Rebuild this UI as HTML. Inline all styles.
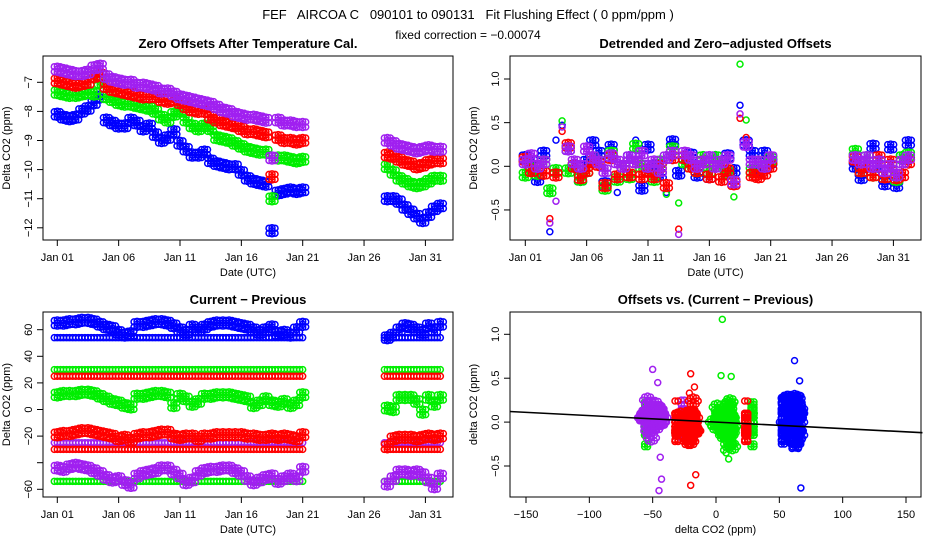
<!DOCTYPE html>
<html><head><meta charset="utf-8">
<style>
html,body{margin:0;padding:0;background:#fff;}
svg{display:block;font-family:"Liberation Sans",Arial,sans-serif;}
text{fill:#000;}
</style></head>
<body>
<svg id="chart" width="936" height="540" viewBox="0 0 936 540" xmlns="http://www.w3.org/2000/svg">
<text x="468" y="19" font-size="13" text-anchor="middle" style="white-space:pre">FEF   AIRCOA C   090101 to 090131   Fit Flushing Effect ( 0 ppm/ppm )</text>
<text x="468" y="39" font-size="12" text-anchor="middle">fixed correction = −0.00074</text>
<g id="layer"></g>
</svg>
<script>
// ---------- data ----------
const dateTickLabels = ["Jan 01","Jan 06","Jan 11","Jan 16","Jan 21","Jan 26","Jan 31"];
const dateTickDays = [0,5,10,15,20,25,30];
const segAStart = 0, segAStep = 0.5;
const segBStart = 26.9, segBStep = 0.48;
const seriesNames = ["blue","green","red","purple"];
const seriesColors = {blue:"#0000ff",green:"#00ee00",red:"#ff0000",purple:"#a020f0"};

// Panel 1: zero offsets after temperature cal.
const zeroBlueA = [-8.1,-8.2,-8.25,-8.2,-8.0,-7.9,-7.7,-7.5,-8.3,-8.4,-8.5,-8.5,-8.3,-8.4,-8.6,-8.5,-8.8,-9.0,-8.9,-8.7,-9.1,-9.3,-9.5,-9.5,-9.4,-9.7,-9.8,-9.85,-9.9,-9.9,-10.1,-10.3,-10.4,-10.45,-10.5,-12.1,-10.8,-10.75,-10.7,-10.75,-10.7];
const zeroGreenA = [-7.35,-7.4,-7.45,-7.45,-7.4,-7.35,-7.4,-7.0,-7.5,-7.6,-7.7,-7.75,-7.75,-7.8,-7.85,-7.9,-8.0,-8.2,-8.3,-8.1,-8.0,-8.3,-8.5,-8.6,-8.5,-8.6,-8.9,-8.95,-9.0,-9.1,-9.2,-9.3,-9.35,-9.4,-9.4,-11.0,-9.6,-9.6,-9.65,-9.7,-9.65];
const zeroRedA = [-6.95,-7.0,-7.05,-7.1,-7.05,-7.0,-6.8,-6.75,-7.15,-7.25,-7.3,-7.35,-7.4,-7.45,-7.5,-7.5,-7.5,-7.6,-7.65,-7.6,-7.7,-7.85,-7.95,-8.0,-8.0,-8.2,-8.3,-8.4,-8.45,-8.5,-8.6,-8.7,-8.7,-8.75,-8.8,-10.25,-8.9,-9.0,-9.0,-9.05,-9.0];
const zeroPurpleA = [-6.55,-6.6,-6.65,-6.7,-6.7,-6.65,-6.5,-6.45,-6.8,-6.9,-6.95,-7.0,-7.0,-7.1,-7.1,-7.15,-7.2,-7.3,-7.3,-7.4,-7.5,-7.55,-7.6,-7.65,-7.7,-7.75,-7.85,-7.95,-8.0,-8.1,-8.15,-8.2,-8.2,-8.25,-8.3,-9.6,-8.3,-8.4,-8.4,-8.45,-8.45];
const zeroBlueB = [-11.0,-11.0,-11.1,-11.3,-11.45,-11.6,-11.75,-11.55,-11.35,-11.25];
const zeroGreenB = [-9.9,-10.1,-10.3,-10.4,-10.5,-10.55,-10.5,-10.4,-10.3,-10.3];
const zeroRedB = [-9.5,-9.55,-9.65,-9.75,-9.8,-9.9,-9.85,-9.75,-9.7,-9.7];
const zeroPurpleB = [-9.0,-9.1,-9.2,-9.25,-9.3,-9.35,-9.3,-9.25,-9.3,-9.3];
const zeroTicks = [-7,-8,-9,-10,-11,-12];

// Panel 2: detrended offsets
const detBlueA = [0.1,0.05,-0.15,0.15,-0.75,0.3,0.47,0.2,0.0,-0.15,0.05,0.27,0.15,-0.2,0.22,-0.3,0.0,0.1,0.3,-0.25,0.22,0.0,-0.1,-0.3,0.28,-0.08,0.1,0.13,-0.1,0.05,-0.12,0.1,0.0,0.12,-0.05,0.7,0.27,0.15,-0.05,0.15,0.05];
const detGreenA = [-0.1,0.0,-0.08,0.05,-0.28,-0.05,0.52,-0.05,0.0,-0.15,-0.05,0.1,0.05,-0.25,0.15,-0.15,0.0,-0.12,0.23,0.0,-0.05,-0.15,0.05,-0.32,0.2,-0.42,0.05,0.0,-0.05,0.1,-0.05,0.1,0.0,-0.08,-0.35,1.17,0.53,-0.05,0.05,0.0,0.08];
const detRedA = [0.08,-0.05,0.0,-0.08,-0.6,-0.1,0.4,0.24,0.0,-0.13,-0.05,0.05,0.02,-0.22,0.1,-0.12,0.0,-0.1,0.05,-0.12,-0.05,-0.12,0.0,-0.22,0.1,-0.72,0.1,0.0,-0.05,0.05,-0.12,0.0,-0.15,-0.05,-0.2,0.55,0.33,-0.1,-0.12,-0.08,0.0];
const detPurpleA = [0.05,0.12,0.0,0.05,-0.65,-0.4,0.45,0.2,0.05,0.0,0.2,0.1,0.05,-0.05,0.12,0.05,0.0,0.1,0.05,0.15,0.0,0.05,-0.05,0.1,0.15,-0.78,0.15,0.1,0.0,0.05,0.1,0.0,0.05,0.1,-0.18,0.6,0.25,0.05,0.05,0.0,0.1];
const detBlueB = [0.0,-0.13,0.1,0.23,0.0,-0.2,0.22,-0.22,0.1,0.27];
const detGreenB = [0.17,-0.05,0.1,-0.1,0.05,-0.12,0.0,-0.15,0.1,0.13];
const detRedB = [0.08,-0.05,0.0,-0.1,0.1,-0.12,0.05,-0.13,-0.1,0.05];
const detPurpleB = [0.1,0.05,0.1,0.0,0.05,-0.05,0.0,-0.1,0.05,0.1];
const offsetTicks = [1.0,0.5,0.0,-0.5];
const offsetTickLabels = ["1.0","0.5","0.0","−0.5"];

// Panel 3: current - previous
const cpBlueA = [65,65,66,66,67,67,66,64,62,61,58,56,57,64,64,65,66,66,65,63,60,58,62,60,62,64,65,65,65,64,63,62,60,58,60,62,57,58,56,60,64];
const cpGreenA = [11,12,12,12,13,13,12,10,8,6,5,3,2,10,10,11,12,12,11,3,10,8,4,6,10,10,11,11,11,10,9,8,3,5,8,5,4,6,3,5,11];
const cpRedA = [-19,-18,-18,-17,-16,-16,-17,-18,-19,-20,-22,-21,-23,-20,-19,-19,-18,-17,-17,-20,-21,-20,-20,-22,-20,-20,-19,-19,-19,-19,-19,-20,-20,-21,-21,-20,-21,-20,-21,-22,-19];
const cpPurpleA = [-44,-45,-43,-42,-43,-44,-46,-48,-51,-53,-52,-55,-57,-50,-48,-47,-46,-44,-44,-47,-50,-55,-53,-48,-46,-45,-45,-44,-44,-46,-48,-52,-55,-53,-51,-50,-54,-52,-50,-52,-45];
const cpBlueB = [54,56,60,63,62,60,58,63,60,64];
const cpGreenB = [1,0,9,9,9,6,-2,9,4,9];
const cpRedB = [-28,-22,-21,-21,-21,-22,-21,-20,-21,-20];
const cpPurpleB = [-56,-52,-47,-47,-48,-47,-49,-53,-58,-50];
const cpRowLevels = [54,30,25,-25,-30,-54];
const cpRowSeries = ["blue","green","red","purple","red","green"];
const cpTicks = [60,40,20,0,-20,-40,-60];
const cpTickLabels = ["60","40","20","0","−20","","−60"];

// Panel 4
const deltaTicks = [-150,-100,-50,0,50,100,150];
const deltaTickLabels = ["−150","−100","−50","0","50","100","150"];
const fitSlope = [-0.00074];
const fitIntercept = [0.0];

// ---------- helpers ----------
const NS = "http://www.w3.org/2000/svg";
const layer = document.getElementById("layer");
function mk(tag, attrs, parent){ const e=document.createElementNS(NS,tag); for(const k in attrs) e.setAttribute(k,attrs[k]); (parent||layer).appendChild(e); return e; }

const P1 = {x0:43,y0:56,x1:453,y1:240, sx:d=>57.3+d*12.27, sy:v=>82.3-(v+7)*29.1};
const P2 = {x0:510,y0:56,x1:921,y1:240, sx:d=>525.3+d*12.27, sy:v=>166.3-v*87.3};
const P3 = {x0:43,y0:312,x1:453,y1:497, sx:d=>57.3+d*12.27, sy:v=>329.7-(v-60)*1.33};
const P4 = {x0:510,y0:312,x1:921,y1:497, sx:v=>716+v*1.2667, sy:v=>422.1-v*87.8};

// marker glyph offsets (visual density of overplotted points, not data)
const DENSE = [[0,0],[-3,-2.5],[3,2.5],[-3,2.5],[3,-2.5],[0,-3],[0,3]];
const ROW = [[0,0],[-3,0]];
const CLUSTER = [[0,0],[-3,-3],[3,3],[-3,3],[3,-3],[0,-4],[0,4],[-5,0],[5,0]];
const SINGLE = [[0,0]];

function frame(P, name, title, xlab, ylab, xt, xtl, yt, ytl){
  const g = mk("g",{});
  
  
  const b = mk("rect",{x:P.x0,y:P.y0,width:P.x1-P.x0,height:P.y1-P.y0,fill:"none",stroke:"#000","stroke-width":1},g);
  
  
  const t = mk("text",{x:(P.x0+P.x1)/2,y:P.y0-8,"font-size":13,"font-weight":"bold","text-anchor":"middle"},g);
  t.textContent = title;
  
  
  const xa = mk("g",{},g);
  
  
  for(let i=0;i<xt.length;i++){
    const x = P.sx(xt[i]);
    mk("line",{x1:x,x2:x,y1:P.y1,y2:P.y1+6,stroke:"#000"},xa);
    const l = mk("text",{x:x,y:P.y1+21,"font-size":11,"text-anchor":"middle"},xa);
    l.textContent = xtl[i];
    
    
  }
  const xl = mk("text",{x:(P.x0+P.x1)/2,y:P.y1+36,"font-size":11,"text-anchor":"middle"},g);
  xl.textContent = xlab;
  
  
  const ya = mk("g",{},g);
  
  
  for(let i=0;i<yt.length;i++){
    const y = P.sy(yt[i]);
    mk("line",{x1:P.x0-6,x2:P.x0,y1:y,y2:y,stroke:"#000"},ya);
    if(ytl[i]!==""){
      const l = mk("text",{x:0,y:0,"font-size":11,"text-anchor":"middle",transform:`translate(${P.x0-11},${y}) rotate(-90)`},ya);
      l.textContent = ytl[i];
      
      
    }
  }
  const yl = mk("text",{x:0,y:0,"font-size":11,"text-anchor":"middle",transform:`translate(${P.x0-33},${(P.y0+P.y1)/2}) rotate(-90)`},g);
  yl.textContent = ylab;
  
  
}

// glyphFn(value) -> offsets list
function pts(P, name, xs, ys, color, glyphFn){
  const g = mk("g",{fill:"none",stroke:color,"stroke-width":1.5});
  
  
  for(let i=0;i<ys.length;i++){
    const cx = P.sx(xs[i]), cy = P.sy(ys[i]);
    const offs = glyphFn ? glyphFn(ys[i]) : SINGLE;
    const pg = mk("g",{},g);
    
    
    offs.forEach(o=>mk("circle",{cx:(cx+o[0]).toFixed(2),cy:(cy+o[1]).toFixed(2),r:3},pg));
  }
}
const denseAll = ()=>DENSE;
const denseNear = v=>Math.abs(v)<0.3?DENSE:SINGLE;
const clusterNear = v=>Math.abs(v)<0.3?CLUSTER:SINGLE;
const rowGlyph = ()=>ROW;

function timesFor(arr, start, step){ return arr.map((_,i)=>start+i*step); }
const tA = timesFor(zeroBlueA, segAStart, segAStep);
const tB = timesFor(zeroBlueB, segBStart, segBStep);

// ---------- panel frames ----------
frame(P1,"zero-offsets-panel","Zero Offsets After Temperature Cal.","Date (UTC)","Delta CO2 (ppm)",dateTickDays,dateTickLabels,zeroTicks,zeroTicks.map(v=>v<0?"−"+(-v):""+v));
frame(P2,"detrended-offsets-panel","Detrended and Zero−adjusted Offsets","Date (UTC)","Delta CO2 (ppm)",dateTickDays,dateTickLabels,offsetTicks,offsetTickLabels);
frame(P3,"current-previous-panel","Current − Previous","Date (UTC)","Delta CO2 (ppm)",dateTickDays,dateTickLabels,cpTicks,cpTickLabels);
frame(P4,"offsets-vs-delta-panel","Offsets vs. (Current − Previous)","delta CO2 (ppm)","delta CO2 (ppm)",deltaTicks,deltaTickLabels,offsetTicks,offsetTickLabels);

const zeroA = {blue:zeroBlueA,green:zeroGreenA,red:zeroRedA,purple:zeroPurpleA};
const zeroB = {blue:zeroBlueB,green:zeroGreenB,red:zeroRedB,purple:zeroPurpleB};
const detA = {blue:detBlueA,green:detGreenA,red:detRedA,purple:detPurpleA};
const detB = {blue:detBlueB,green:detGreenB,red:detRedB,purple:detPurpleB};
const cpA = {blue:cpBlueA,green:cpGreenA,red:cpRedA,purple:cpPurpleA};
const cpB = {blue:cpBlueB,green:cpGreenB,red:cpRedB,purple:cpPurpleB};

// Panel 1
seriesNames.forEach(s=>{
  pts(P1,"zero-"+s+"-jan01-20",tA,zeroA[s],seriesColors[s],denseAll);
  pts(P1,"zero-"+s+"-jan27-31",tB,zeroB[s],seriesColors[s],denseAll);
});
// Panel 2
seriesNames.forEach(s=>{
  pts(P2,"detrended-"+s+"-jan01-20",tA,detA[s],seriesColors[s],denseNear);
  pts(P2,"detrended-"+s+"-jan27-31",tB,detB[s],seriesColors[s],denseNear);
});
// Panel 3
cpRowLevels.forEach((lv,k)=>{
  const s = cpRowSeries[k];
  pts(P3,"cp-row-"+s+"-"+k+"-a",tA,tA.map(()=>lv),seriesColors[s],rowGlyph);
  pts(P3,"cp-row-"+s+"-"+k+"-b",tB,tB.map(()=>lv),seriesColors[s],rowGlyph);
});
seriesNames.forEach(s=>{
  pts(P3,"cp-"+s+"-jan01-20",tA,cpA[s],seriesColors[s],denseAll);
  pts(P3,"cp-"+s+"-jan27-31",tB,cpB[s],seriesColors[s],denseAll);
});
// Panel 4: offsets vs delta
cpRowLevels.forEach((lv,k)=>{
  const s = cpRowSeries[k];
  const ya = detA[s].filter(v=>Math.abs(v)<0.3);
  const yb = detB[s].filter(v=>Math.abs(v)<0.3);
  pts(P4,"scatter-row-"+s+"-"+k+"-a",ya.map(()=>lv),ya,seriesColors[s],()=>ROW);
  pts(P4,"scatter-row-"+s+"-"+k+"-b",yb.map(()=>lv),yb,seriesColors[s],()=>ROW);
});
seriesNames.forEach(s=>{
  pts(P4,"scatter-"+s+"-a",cpA[s],detA[s],seriesColors[s],clusterNear);
  pts(P4,"scatter-"+s+"-b",cpB[s],detB[s],seriesColors[s],clusterNear);
});
const fx0=-163, fx1=163;
const fit = mk("line",{x1:P4.sx(fx0),y1:P4.sy(fitIntercept[0]+fitSlope[0]*fx0),x2:P4.sx(fx1),y2:P4.sy(fitIntercept[0]+fitSlope[0]*fx1),stroke:"#000","stroke-width":1.6});


</script>
</body></html>
